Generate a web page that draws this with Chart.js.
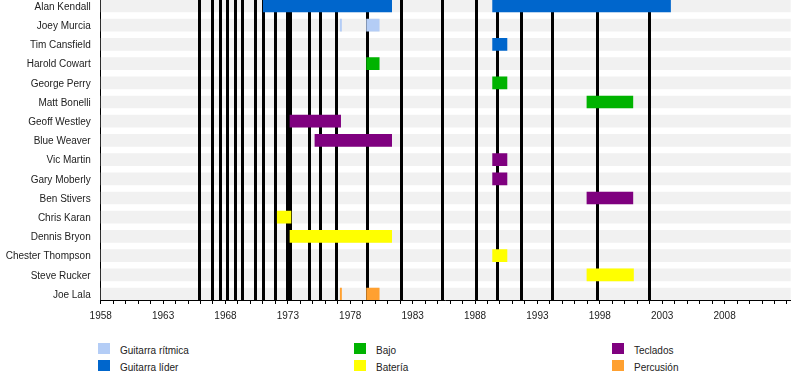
<!DOCTYPE html>
<html>
<head>
<meta charset="utf-8">
<script src="https://cdn.jsdelivr.net/npm/chart.js@4.4.0/dist/chart.umd.min.js"></script>
<style>
    html, body { margin: 0; padding: 0; background: #fff; }
    #wrap { position: relative; width: 800px; height: 390px; overflow: hidden; }
    #timeline { position: absolute; left: 0; top: 0; }
    .legend-item { position: absolute; display: flex; align-items: center; font: 10px "Liberation Sans", Arial, sans-serif; color: #222; white-space: nowrap; }
    .legend-item i { display: block; width: 12px; height: 11px; margin-right: 10px; }
    .legend-item span { position: relative; top: 2px; }
</style>
</head>
<body>
<div id="wrap">
    <canvas id="timeline" width="800" height="330"></canvas>
    <div id="legend"></div>
</div>
<script>
'use strict';

const MEMBERS = ['Alan Kendall', 'Joey Murcia', 'Tim Cansfield', 'Harold Cowart', 'George Perry', 'Matt Bonelli', 'Geoff Westley', 'Blue Weaver',
    'Vic Martin', 'Gary Moberly', 'Ben Stivers', 'Chris Karan', 'Dennis Bryon', 'Chester Thompson', 'Steve Rucker', 'Joe Lala'];

const YEAR_MIN = 1958;
const YEAR_MAX = 2013.3;
const YEAR_LABEL_STEP = 5;
const YEAR_LABEL_LAST = 2008;

// black release markers
const ALBUM_YEARS = [1965.88, 1966.94, 1967.58, 1968.12, 1968.76, 1969.35, 1970.36, 1970.98, 1971.94, 1972.94, 1973.18, 1974.67,
    1975.57, 1976.85, 1979.31, 1982.06, 1985.37, 1988.07, 1989.78, 1991.70, 1994.16, 1997.74, 2001.96];

// [member, from, to]
const GUITARRA_RITMICA = [['Joey Murcia', 1977.2, 1977.3], ['Joey Murcia', 1979.31, 1980.32]];
const GUITARRA_LIDER = [['Alan Kendall', 1971.03, 1981.32], ['Alan Kendall', 1989.41, 2003.67], ['Tim Cansfield', 1989.41, 1990.56]];
const BAJO = [['Harold Cowart', 1979.31, 1980.32], ['George Perry', 1989.41, 1990.56], ['Matt Bonelli', 1996.97, 2000.65]];
const BATERIA = [['Chris Karan', 1972.15, 1973.25], ['Dennis Bryon', 1973.17, 1981.32], ['Chester Thompson', 1989.41, 1990.56], ['Steve Rucker', 1996.97, 2000.7]];
const TECLADOS = [['Geoff Westley', 1973.17, 1977.23], ['Blue Weaver', 1975.17, 1981.32], ['Vic Martin', 1989.41, 1990.56], ['Gary Moberly', 1989.41, 1990.56], ['Ben Stivers', 1996.97, 2000.65]];
const PERCUSION = [['Joe Lala', 1977.2, 1977.3], ['Joe Lala', 1979.31, 1980.32]];

const INSTRUMENT_LABELS = ['Guitarra rítmica', 'Guitarra líder', 'Bajo', 'Batería', 'Teclados', 'Percusión'];
const INSTRUMENT_SPANS = [GUITARRA_RITMICA, GUITARRA_LIDER, BAJO, BATERIA, TECLADOS, PERCUSION];

const COLORS = ['#b4cdf6', '#0066cc', '#00b300', '#ffff00', '#7f007f', '#ffa030'];
const BAND = '#f1f1f1';
const FONT = '"Liberation Sans", Arial, sans-serif';

const toPoints = spans => spans.map(([name, from, to]) => ({ x: [from, to], y: MEMBERS.indexOf(name) }));

// markers go above the grey row bands but under the coloured bars
const albumLines = {
    id: 'albumLines',
    afterDatasetDraw(chart, args) {
        if (!chart.data.datasets[args.index].band) {
            return;
        }
        let { ctx, chartArea, scales } = chart;
        ctx.save();
        ctx.strokeStyle = '#000';
        ctx.lineWidth = 3;
        ALBUM_YEARS.forEach(year => {
            let px = Math.round(scales.x.getPixelForValue(year)) + 0.5;
            ctx.beginPath();
            ctx.moveTo(px, chartArea.top);
            ctx.lineTo(px, chartArea.bottom);
            ctx.stroke();
        });
        ctx.restore();
    }
};

Chart.defaults.font.family = FONT;
Chart.defaults.font.size = 10;
Chart.defaults.color = '#222';

let datasets = INSTRUMENT_LABELS.map((label, i) => ({
    label,
    data: toPoints(INSTRUMENT_SPANS[i]),
    backgroundColor: COLORS[i],
    order: 1
}));
datasets.push({
    label: 'rows',
    band: true,
    data: MEMBERS.map((name, i) => ({ x: [YEAR_MIN, YEAR_MAX], y: i })),
    backgroundColor: BAND,
    order: 2
});

new Chart(document.getElementById('timeline'), {
    type: 'bar',
    data: { datasets },
    options: {
        indexAxis: 'y',
        responsive: false,
        animation: false,
        layout: { padding: { left: 0, right: 9.3, top: 0, bottom: 0 } },
        datasets: { bar: { barThickness: 12, grouped: false, borderWidth: 0, borderSkipped: false } },
        plugins: { legend: { display: false }, tooltip: { enabled: false } },
        scales: {
            x: {
                type: 'linear',
                min: YEAR_MIN,
                max: YEAR_MAX,
                afterBuildTicks: scale => {
                    let ticks = [];
                    for (let year = YEAR_MIN; year <= Math.floor(YEAR_MAX); year++) {
                        ticks.push({ value: year });
                    }
                    scale.ticks = ticks;
                },
                afterFit: scale => {
                    scale.height = 30;
                    scale.paddingLeft = 0;
                    scale.paddingRight = 0;
                },
                grid: { drawOnChartArea: false, drawTicks: true, tickLength: 4, color: '#000' },
                border: { color: '#000' },
                ticks: {
                    autoSkip: false,
                    maxRotation: 0,
                    padding: 6,
                    color: '#222',
                    callback: value => ((value - YEAR_MIN) % YEAR_LABEL_STEP === 0 && value <= YEAR_LABEL_LAST ? String(value) : '')
                }
            },
            y: {
                type: 'linear',
                reverse: true,
                offset: false,
                min: -0.3125,
                max: 15.3125,
                afterBuildTicks: scale => {
                    scale.ticks = MEMBERS.map((name, i) => ({ value: i }));
                },
                afterFit: scale => {
                    scale.width = 100.7;
                    scale.paddingTop = 0;
                    scale.paddingBottom = 0;
                },
                grid: { offset: false, drawOnChartArea: false, drawTicks: false },
                border: { color: '#000' },
                ticks: {
                    autoSkip: false,
                    padding: 10,
                    labelOffset: 1,
                    color: '#222',
                    callback: value => MEMBERS[value]
                }
            }
        }
    },
    plugins: [albumLines]
});

// legend: three columns, two entries each
let $legend = document.getElementById('legend');
INSTRUMENT_LABELS.forEach((label, i) => {
    let $item = document.createElement('div');
    $item.className = 'legend-item';
    $item.style.left = [98, 354, 612][Math.floor(i / 2)] + 'px';
    $item.style.top = (343 + (i % 2) * 17) + 'px';
    let $swatch = document.createElement('i');
    $swatch.style.background = COLORS[i];
    let $text = document.createElement('span');
    $text.textContent = label;
    $item.append($swatch, $text);
    $legend.appendChild($item);
});
</script>
</body>
</html>
